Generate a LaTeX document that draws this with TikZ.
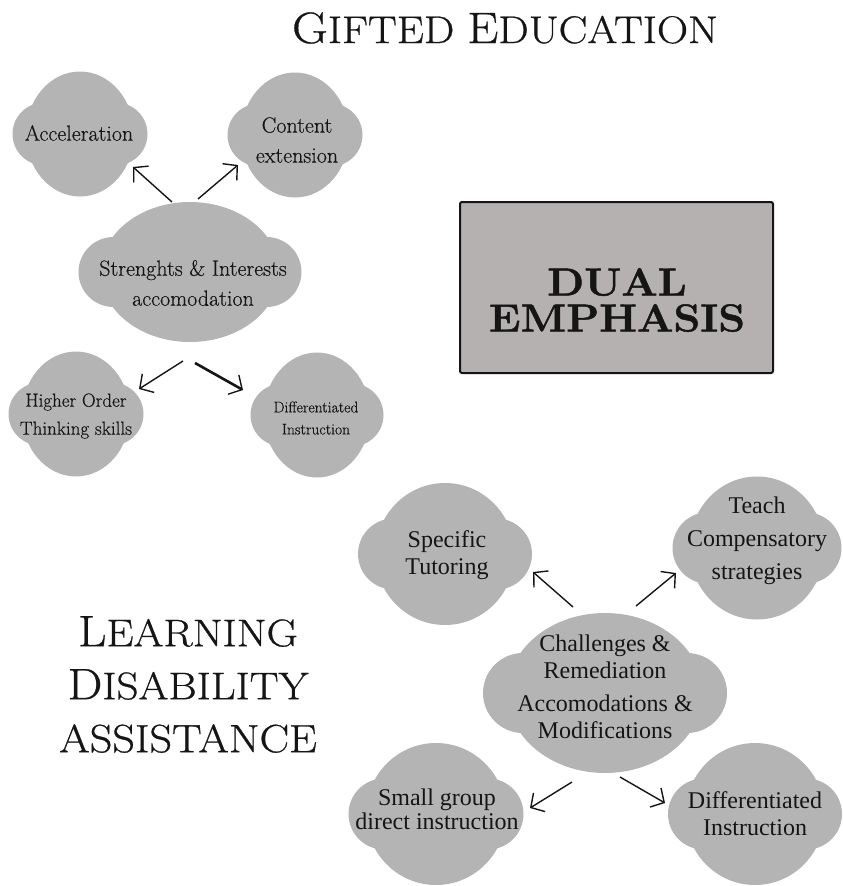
\documentclass[tikz,border=0pt]{standalone}
\usepackage{fontspec}
\newfontfamily\lowfont{Liberation Serif}
\newfontfamily\titlefont{Latin Modern Roman}[FakeStretch=1.12, FakeBold=0.7]
\newfontfamily\upfont{Latin Modern Roman}[FakeBold=0.35]
\newfontfamily\dualfont{Latin Modern Roman}[FakeStretch=1.1, FakeBold=1.2]
\usetikzlibrary{arrows.meta}
\definecolor{cloudgray}{HTML}{B4B4B4}
\definecolor{boxgray}{HTML}{B6B1B1}
\definecolor{ink}{HTML}{151515}
\newcommand{\capsT}[2]{{\fontsize{44}{44}\selectfont #1}{\fontsize{38.5}{44}\selectfont #2}}
\tikzset{
  pics/cloudshape/.style 2 args={code={
    \fill[cloudgray] (0,0) ellipse [x radius={0.4*#1}, y radius={0.5*#2}];
    \fill[cloudgray] ({-0.5*#1+0.25*#2},0) circle [radius={0.25*#2}];
    \fill[cloudgray] ({0.5*#1-0.25*#2},0) circle [radius={0.25*#2}];
    \fill[cloudgray] ({-0.5*#1+0.25*#2},{-0.25*#2}) rectangle ({0.5*#1-0.25*#2},{0.25*#2});
  }},
  uptxt/.style={align=center, inner sep=0pt, text=ink, font=\upfont\fontsize{22}{30}\selectfont},
  lowtxt/.style={align=center, inner sep=0pt, text=ink, font=\lowfont\fontsize{24}{27}\selectfont},
  arr/.style={draw=ink, line width=1.4pt, -{Straight Barb[length=10pt,width=22pt,line width=1.4pt]}},
  titletxt/.style={align=center, inner sep=0pt, text=ink, font=\titlefont},
}
\begin{document}
\begin{tikzpicture}[x=1pt,y=-1pt]
\useasboundingbox (0,0) rectangle (843,886);

% titles
\node[titletxt] (gifted) at (505,28) {\capsT{G}{IFTED}\hspace{13pt}\capsT{E}{DUCATION}};
\node[titletxt, font=\titlefont\fontsize{38.5}{53}\selectfont] (ld) at (188,684.5)
  {\capsT{L}{EARNING}\\\capsT{D}{ISABILITY}\\{\fontsize{39.5}{44}\selectfont ASSISTANCE}};

% dual emphasis
\node[draw=ink, line width=2pt, rounded corners=2pt, fill=boxgray,
      minimum width=313pt, minimum height=171pt, inner sep=0pt] (dual) at (616.5,287.5) {};
\node[titletxt, font=\dualfont\bfseries\fontsize{39}{36}\selectfont] (dualtxt) at (617,300) {DUAL\\EMPHASIS};

% upper clouds
\pic at (80,134) {cloudshape={135}{125}};
\pic at (295,135) {cloudshape={135}{125}};
\pic at (190,272) {cloudshape={223}{140}};
\pic at (76,414) {cloudshape={135}{125}};
\pic at (317,415) {cloudshape={133}{125}};

\node[uptxt] (acc) at (79,133) {Acceleration};
\node[uptxt] (cont) at (297,140) {Content\\extension};
\node[uptxt] (str) at (193,283) {Strenghts \& Interests\\accomodation};
\node[uptxt, font=\upfont\fontsize{19}{28}\selectfont] (hot) at (76,416) {Higher Order\\Thinking skills};
\node[uptxt, font=\upfont\fontsize{15.5}{22}\selectfont] (dif1) at (316,418) {Differentiated\\Instruction};

% lower clouds
\pic at (445,554) {cloudshape={174}{142}};
\pic at (757,548) {cloudshape={169}{143}};
\pic at (605,693) {cloudshape={244}{160}};
\pic at (436,814) {cloudshape={175}{142}};
\pic at (755,814) {cloudshape={174}{142}};

\node[lowtxt] (spec) at (447,555) {Specific\\Tutoring};
\node[lowtxt, font=\lowfont\fontsize{24}{33}\selectfont] (teach) at (757,541) {Teach\\Compensatory\\strategies};
\node[lowtxt] (chal) at (605,687) {Challenges \&\\Remediation\\[6pt]Accomodations \&\\Modifications};
\node[lowtxt, font=\lowfont\fontsize{24}{24}\selectfont] (small) at (437,809) {Small group\\direct instruction};
\node[lowtxt] (dif2) at (755,814) {Differentiated\\Instruction};

% arrow end points
\coordinate (a1s) at (172,202); \coordinate (a1e) at (133,167);
\coordinate (a2s) at (198,199); \coordinate (a2e) at (238,165);
\coordinate (a3s) at (183,361); \coordinate (a3e) at (139,389);
\coordinate (a4s) at (195,363); \coordinate (a4e) at (243,390);
\coordinate (a5s) at (573,607); \coordinate (a5e) at (533,572);
\coordinate (a6s) at (636,606); \coordinate (a6e) at (676,573);
\coordinate (a7s) at (572,782); \coordinate (a7e) at (530,808);
\coordinate (a8s) at (620,777); \coordinate (a8e) at (665,803);

\draw[arr] (a1s) -- (a1e);
\draw[arr] (a2s) -- (a2e);
\draw[arr] (a3s) -- (a3e);
\draw[arr, line width=2.6pt] (a4s) -- (a4e);
\draw[arr] (a5s) -- (a5e);
\draw[arr] (a6s) -- (a6e);
\draw[arr] (a7s) -- (a7e);
\draw[arr] (a8s) -- (a8e);
\end{tikzpicture}
\end{document}
